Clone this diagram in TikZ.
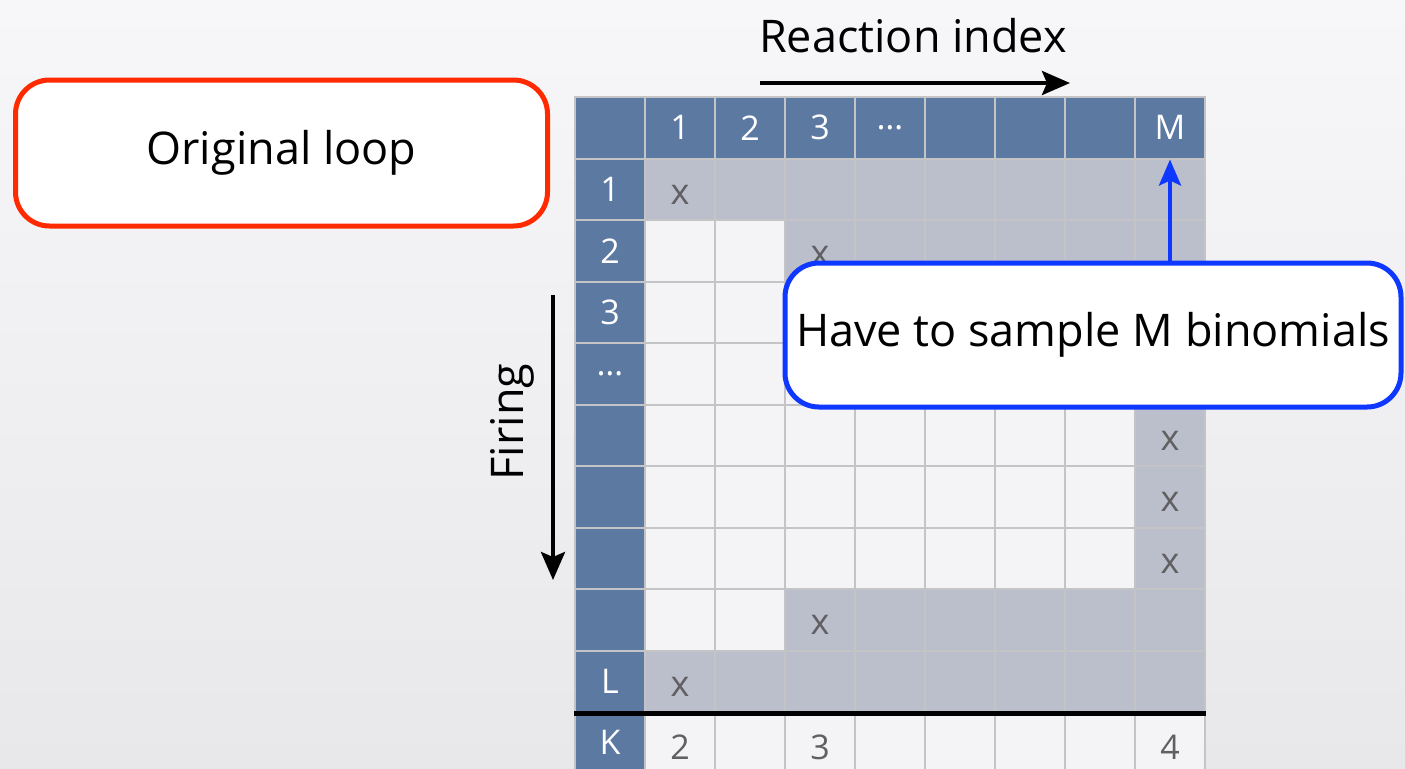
\documentclass[tikz,border=0pt]{standalone}
\usepackage{fontspec}
\setmainfont{Open Sans}
\usetikzlibrary{arrows.meta}
\definecolor{tabblue}{RGB}{92,121,162}
\definecolor{tabgray}{RGB}{187,191,204}
\definecolor{tabwhite}{RGB}{244,244,247}
\definecolor{tabline}{RGB}{196,196,198}
\definecolor{markgray}{RGB}{96,96,98}
\definecolor{loopred}{RGB}{255,42,0}
\definecolor{noteblue}{RGB}{14,56,255}

\begin{document}
\begin{tikzpicture}[x=0.5pt,y=-0.5pt,
  cell/.style={draw=tabline,line width=1pt,minimum width=35pt,minimum height=30.75pt,inner sep=0pt},
  head/.style={cell,fill=tabblue,text=white,font=\fontsize{17}{20}\selectfont},
  on/.style={cell,fill=tabgray,text=markgray,font=\fontsize{18}{21}\selectfont,text height=15pt,text depth=0pt},
  off/.style={cell,fill=tabwhite,text=markgray,font=\fontsize{18}{21}\selectfont,text height=15pt,text depth=0pt},
  count/.style={cell,fill=tabwhite,text=markgray,font=\fontsize{17}{20}\selectfont,text height=17pt,text depth=0pt},
  callout/.style={draw,line width=2.5pt,fill=white,rounded corners=17pt,font=\fontsize{22.5}{26}\selectfont},
  axis/.style={line width=2pt,-{Stealth[length=14pt,width=12pt,inset=2.5pt]}}]
\useasboundingbox (0,0) rectangle (1405,768);
\shade[top color={rgb,255:red,247;green,247;blue,249},bottom color={rgb,255:red,232;green,232;blue,235}] (0,0) rectangle (1405,768);

% header row
\foreach \c/\lab in {0/,1/1,2/2,3/3,4/\ldots,5/,6/,7/,8/M}
  \node[head] (h\c) at ({610+70*\c},127.75) {\lab};

% rows: label / first gray column / column of the x (0: none shown)
\foreach \r/\lab/\f/\m in {1/1/1/1,2/2/3/3,3/3/3/0,4/\ldots/8/0,5//8/8,6//8/8,7//8/8,8//3/3,9/L/1/1}{
  \node[head] (r\r) at (610,{127.75+61.5*\r}) {\lab};
  \foreach \c in {1,...,8}{
    \ifnum\c<\f \def\sty{off}\else\def\sty{on}\fi
    \ifnum\c=\m \def\txt{x}\else\def\txt{}\fi
    \node[\sty] (c\r-\c) at ({610+70*\c},{127.75+61.5*\r}) {\txt};
  }
}

% counts
\node[head] (k0) at (610,742.75) {K};
\foreach \c/\lab in {1/2,2/,3/3,4/,5/,6/,7/,8/4}
  \node[count] (k\c) at ({610+70*\c},742.75) {\lab};
\draw[line width=2.5pt] (r9.south west) -- (c9-8.south east);

% axes
\coordinate (ra) at (760,83);
\coordinate (rb) at (1070,83);
\draw[axis] (ra) -- (rb);
\node[font=\fontsize{22.5}{26}\selectfont] (rlab) at (913,36) {Reaction index};
\coordinate (fa) at (553,295);
\coordinate (fb) at (553,580);
\draw[axis] (fa) -- (fb);
\node[font=\fontsize{22.5}{26}\selectfont,rotate=90] (flab) at (512,422) {Firing};

% notes
\node[callout,draw=loopred,minimum width=266pt,minimum height=73pt] (orig) at (281.5,153) {Original loop};
\node[callout,draw=noteblue,minimum width=308pt,minimum height=72pt] (note) at (1093,335) {Have to sample M binomials};
\draw[noteblue,line width=2pt,-{Stealth[length=13pt,width=11pt,inset=2.5pt]}] (note.north -| h8) -- (h8.south);
\end{tikzpicture}
\end{document}
